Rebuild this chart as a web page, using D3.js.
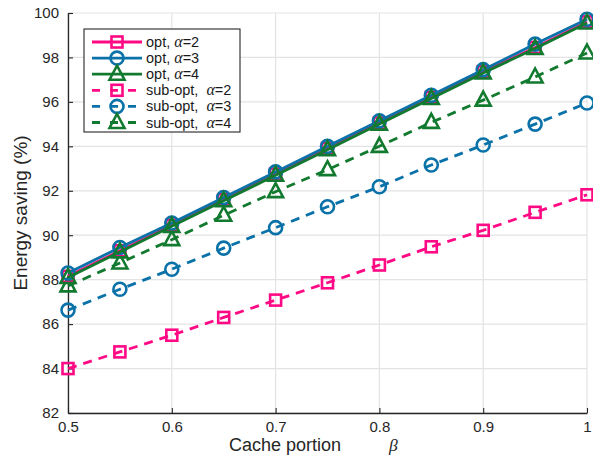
<!DOCTYPE html>
<html><head><meta charset="utf-8">
<script src="https://cdn.jsdelivr.net/npm/d3@7"></script>
<style>body{margin:0;background:#fff}svg{display:block}text{font-family:"Liberation Sans",Arial,sans-serif;white-space:pre}</style>
</head><body><svg id="c" width="593" height="457"></svg>
<script>
const beta = [0.5,0.55,0.6,0.65,0.7,0.75,0.8,0.85,0.9,0.95,1.0];
const optA2 = [88.15,89.3,90.45,91.6,92.75,93.9,95.05,96.2,97.35,98.45,99.6];
const optA3 = [88.3,89.45,90.55,91.7,92.85,94.0,95.15,96.3,97.45,98.6,99.72];
const optA4 = [88.1,89.25,90.4,91.55,92.7,93.85,95.0,96.15,97.3,98.4,99.55];
const subA2 = [84.0,84.75,85.5,86.3,87.08,87.86,88.66,89.48,90.22,91.03,91.82];
const subA3 = [86.63,87.57,88.47,89.42,90.34,91.28,92.18,93.16,94.06,95.0,95.95];
const subA4 = [87.72,88.75,89.8,90.9,91.96,92.95,94.0,95.08,96.08,97.12,98.2];
const xTicks = [0.5,0.6,0.7,0.8,0.9,1];
const yTicks = [82,84,86,88,90,92,94,96,98,100];
const seriesNames = ["opt","opt","opt","sub-opt","sub-opt","sub-opt"];
const alphas = ["2","3","4","2","3","4"];

const PINK="#ff0a84", BLUE="#0a72a8", GREEN="#117a2f";
const series = [
  {v:optA2, c:PINK, m:"square", dash:null},
  {v:optA3, c:BLUE, m:"circle", dash:null},
  {v:optA4, c:GREEN, m:"triangle", dash:null},
  {v:subA2, c:PINK, m:"square", dash:"9,7"},
  {v:subA3, c:BLUE, m:"circle", dash:"9,7"},
  {v:subA4, c:GREEN, m:"triangle", dash:"9,7"}
];
const L=68,R=587,T=13,B=413;
const svg=d3.select("#c");
const x=d3.scaleLinear().domain([0.5,1]).range([L,R]);
const y=d3.scaleLinear().domain([82,100]).range([B,T]);

const g=svg.append("g");
g.selectAll(".gx").data(xTicks).enter().append("line")
 .attr("x1",d=>x(d)).attr("x2",d=>x(d)).attr("y1",T).attr("y2",B)
 .attr("stroke","#e3e3e3").attr("stroke-width",1.2);
g.selectAll(".gy").data(yTicks).enter().append("line")
 .attr("x1",L).attr("x2",R).attr("y1",d=>y(d)).attr("y2",d=>y(d))
 .attr("stroke","#e3e3e3").attr("stroke-width",1.2);

const xa=svg.append("g").attr("transform",`translate(0,${B})`)
 .call(d3.axisBottom(x).tickValues(xTicks).tickFormat(d=>d===1?"1":d3.format(".1f")(d)).tickSizeInner(-5).tickSizeOuter(0).tickPadding(8));
const ya=svg.append("g").attr("transform",`translate(${L},0)`)
 .call(d3.axisLeft(y).tickValues(yTicks).tickSizeInner(-5).tickSizeOuter(0).tickPadding(9));
[xa,ya].forEach(a=>{
 a.select(".domain").attr("stroke","#262626").attr("stroke-width",1.3);
 a.selectAll(".tick line").attr("stroke","#262626").attr("stroke-width",1.1);
 a.selectAll("text").attr("font-size",15).attr("fill","#262626").style("font-family","Liberation Sans, Arial, sans-serif");
});

function marker(sel,type,c){
 if(type==="square") sel.append("rect").attr("x",-5.5).attr("y",-5.5).attr("width",11).attr("height",11)
   .attr("fill","none").attr("stroke",c).attr("stroke-width",2.6);
 else if(type==="circle") sel.append("circle").attr("r",6.5).attr("fill","none").attr("stroke",c).attr("stroke-width",2.6);
 else sel.append("path").attr("d","M0,-8.5 L7.5,5.5 L-7.5,5.5 Z").attr("fill","none").attr("stroke",c).attr("stroke-width",2.6).attr("stroke-linejoin","miter");
}
const line=d3.line().x((d,i)=>x(beta[i])).y(d=>y(d));
const order=[3,4,5,0,1,2];
order.forEach(k=>{
 const s=series[k];
 const gg=svg.append("g");
 gg.append("path").datum(s.v).attr("d",line).attr("fill","none").attr("stroke",s.c)
  .attr("stroke-width",2.8).attr("stroke-dasharray",s.dash);
 s.v.forEach((v,i)=>{ const m=gg.append("g").attr("transform",`translate(${x(beta[i])},${y(v)})`); marker(m,s.m,s.c); });
});

const lg=svg.append("g");
lg.append("rect").attr("x",84).attr("y",29).attr("width",156).attr("height",103).attr("fill","#fff").attr("stroke","#262626").attr("stroke-width",1.1);
series.forEach((s,i)=>{
 const yy=42+i*16.1;
 lg.append("line").attr("x1",92).attr("x2",142).attr("y1",yy).attr("y2",yy).attr("stroke",s.c).attr("stroke-width",2.8).attr("stroke-dasharray",s.dash?"8,10":null);
 const m=lg.append("g").attr("transform",`translate(117,${yy})`); marker(m,s.m,s.c);
 const t=lg.append("text").attr("x",146).attr("y",yy+5).attr("font-size",14.5).attr("fill","#1a1a1a");
 t.append("tspan").text(seriesNames[i]+(i>=3?",  ":", "));
 t.append("tspan").text("α").style("font-family","Liberation Serif, serif").attr("font-style","italic").attr("font-size",16);
 t.append("tspan").text("="+alphas[i]);
});

svg.append("text").attr("x",229).attr("y",451).attr("font-size",18).attr("fill","#262626").text("Cache portion");
svg.append("text").attr("x",389).attr("y",451).attr("font-size",17.5).attr("fill","#262626")
 .style("font-family","Liberation Serif, serif").attr("font-style","italic").text("β");
svg.append("text").attr("transform","translate(27,213) rotate(-90)").attr("text-anchor","middle").attr("font-size",19).attr("fill","#262626").text("Energy saving (%)");
</script></body></html>
